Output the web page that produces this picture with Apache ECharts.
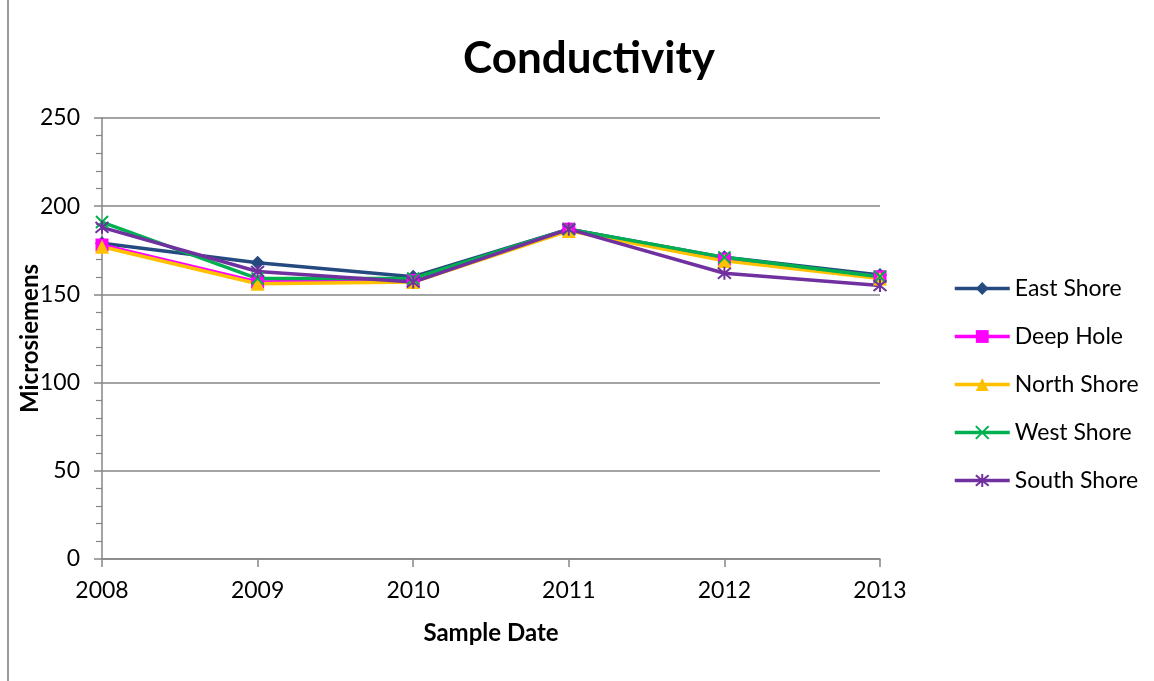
<!DOCTYPE html>
<html>
<head>
<meta charset="utf-8">
<script src="https://cdn.jsdelivr.net/npm/echarts@6/dist/echarts.min.js"></script>
<style>
  html, body { margin: 0; padding: 0; background: #fff; }
  #main { width: 1154px; height: 681px; }
</style>
</head>
<body>
<div id="main"></div>
<script>
// values
var years = ['2008', '2009', '2010', '2011', '2012', '2013'];
var eastShore = [179, 168, 160, 187, 171, 161];
var deepHole = [178, 157, 158, 187, 170, 160];
var northShore = [177, 156, 157, 186, 169, 159];
var westShore = [191, 159, 159, 187, 171, 160];
var southShore = [188, 163, 157, 187, 162, 155];

var font = 'Lato, "Open Sans", sans-serif';
var gray = '#868686';

function makeSeries(name, data, color, symbol, size, stroked) {
    return {
        name: name,
        type: 'line',
        data: data,
        symbol: symbol,
        symbolSize: size,
        showAllSymbol: true,
        lineStyle: { color: color, width: 3.5 },
        itemStyle: stroked
            ? { color: color, borderColor: color, borderWidth: 2 }
            : { color: color, borderWidth: 0 },
        emphasis: { disabled: true }
    };
}

var chart = echarts.init(document.getElementById('main'));
var option = {
    backgroundColor: '#fff',
    animation: false,
    textStyle: { fontFamily: font },
    title: {
        text: 'Conductivity',
        left: 584,
        textAlign: 'center',
        top: 32,
        textStyle: { fontFamily: font, fontSize: 44, fontWeight: 'bold', color: '#000' }
    },
    legend: {
        orient: 'vertical',
        left: 948,
        top: 272,
        itemWidth: 55,
        itemHeight: 16,
        itemGap: 25,
        lineStyle: { width: 3.5 },
        textStyle: { fontFamily: font, fontSize: 23, color: '#000' },
        data: ['East Shore', 'Deep Hole', 'North Shore', 'West Shore', 'South Shore']
    },
    grid: { left: 102, right: 274, top: 118, bottom: 122 },
    xAxis: {
        type: 'category',
        data: years,
        boundaryGap: false,
        name: 'Sample Date',
        nameLocation: 'middle',
        nameGap: 62,
        nameMoveOverlap: false,
        nameTextStyle: { fontFamily: font, fontSize: 24, fontWeight: 'bold', color: '#000' },
        axisLine: { lineStyle: { color: gray, width: 1.5 } },
        axisTick: { show: true, length: 8, alignWithLabel: true, lineStyle: { color: gray, width: 1.5 } },
        axisLabel: { fontFamily: font, fontSize: 23, color: '#000', margin: 20 }
    },
    yAxis: {
        type: 'value',
        min: 0,
        max: 250,
        interval: 50,
        name: 'Microsiemens',
        nameLocation: 'middle',
        nameGap: 60,
        nameMoveOverlap: false,
        nameTextStyle: { fontFamily: font, fontSize: 24, fontWeight: 'bold', color: '#000' },
        axisLine: { show: true, lineStyle: { color: gray, width: 1.5 } },
        axisTick: { show: true, length: 8, lineStyle: { color: gray, width: 1.5 } },
        minorTick: { show: true, splitNumber: 5, length: 6, lineStyle: { color: gray, width: 1.2 } },
        splitLine: { show: true, lineStyle: { color: gray, width: 1.5 } },
        axisLabel: { fontFamily: font, fontSize: 23, color: '#000', margin: 22 }
    },
    graphic: [{
        type: 'line',
        shape: { x1: 8, y1: 0, x2: 8, y2: 681 },
        style: { stroke: '#9a9a9a', lineWidth: 2 }
    }],
    series: [
        makeSeries('East Shore', eastShore, '#254A80', 'diamond', 14, false),
        makeSeries('Deep Hole', deepHole, '#FF00FF', 'rect', 13, false),
        makeSeries('North Shore', northShore, '#FFC000', 'triangle', 14, false),
        makeSeries('West Shore', westShore, '#00B050', 'path://M0,0L10,10M10,0L0,10', 12, true),
        makeSeries('South Shore', southShore, '#7030A0', 'path://M0,0L10,10M10,0L0,10M5,-1L5,11', 13, true)
    ]
};
chart.setOption(option);
</script>
</body>
</html>
